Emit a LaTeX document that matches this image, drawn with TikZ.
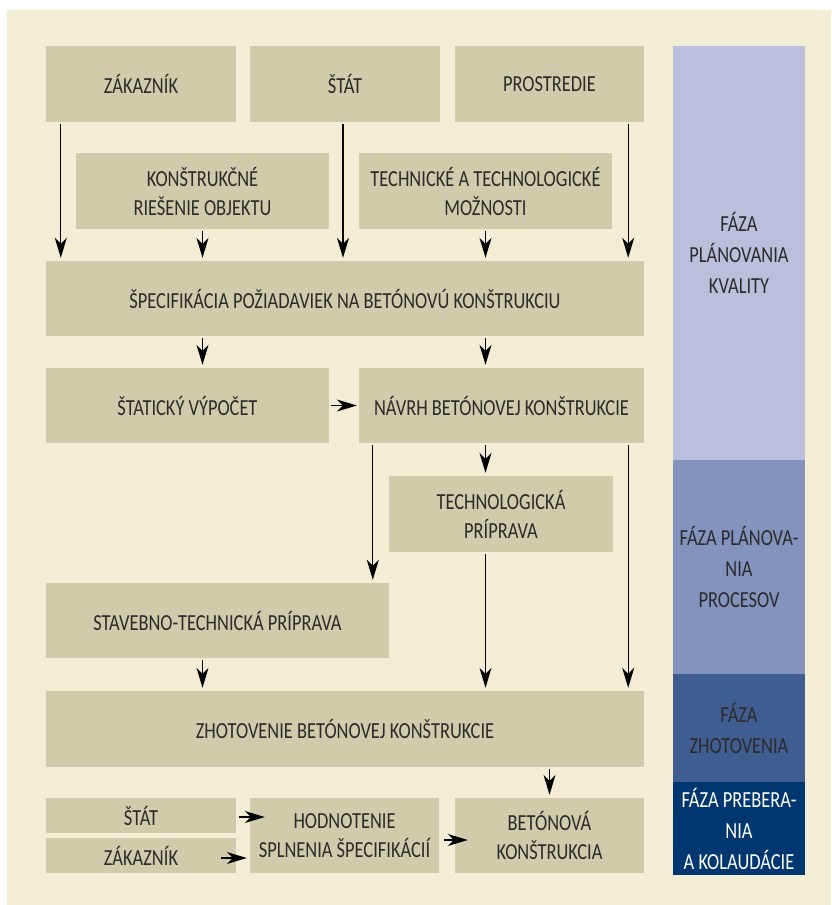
\documentclass[tikz,border=0pt]{standalone}
\usepackage{fontspec}
\setmainfont{Carlito}[FakeStretch=0.8]
\usetikzlibrary{arrows.meta}

\definecolor{paper}{RGB}{242,237,212}
\definecolor{khaki}{RGB}{208,203,170}
\definecolor{ink}{RGB}{43,43,43}
\definecolor{phaseA}{RGB}{186,192,219}
\definecolor{phaseB}{RGB}{132,147,189}
\definecolor{phaseC}{RGB}{63,93,145}
\definecolor{phaseD}{RGB}{0,55,112}

\tikzset{
    blk/.style={fill=khaki, text=ink, align=center, inner sep=0pt,
        minimum height=76pt, font=\fontsize{23}{29}\selectfont},
    phase/.style={text=ink, align=center, inner sep=0pt,
        minimum width=132pt, font=\fontsize{23}{31}\selectfont},
    arr/.style={draw=black, line width=1.3pt, shorten <=2pt, shorten >=3pt,
        -{Stealth[length=20pt, width=12pt, inset=6pt]}}
}

\begin{document}
\begin{tikzpicture}[x=1pt, y=-1pt]

    % --- Page and paper ---
    \fill[white] (0,0) rectangle (831,905);
    \fill[paper] (7,10) rectangle (831,905);
    \useasboundingbox (0,0) rectangle (831,905);

    % --- Inputs ---
    \node[blk, minimum width=190pt] (zak) at (141,84) {ZÁKAZNÍK};
    \node[blk, minimum width=190pt] (stat) at (345,84) {ŠTÁT};
    \node[blk, minimum width=189pt] (prostr) at (549.5,84) {PROSTREDIE};
    \node[blk, minimum width=253pt] (konst) at (202.5,191) {KONŠTRUKČNÉ\\RIEŠENIE OBJEKTU};
    \node[blk, minimum width=253pt] (tech) at (485.5,191) {TECHNICKÉ A TECHNOLOGICKÉ\\MOŽNOSTI};

    % --- Main chain ---
    \node[blk, minimum width=598pt, minimum height=75pt] (spec) at (345,298.5)
        {ŠPECIFIKÁCIA POŽIADAVIEK NA BETÓNOVÚ KONŠTRUKCIU};
    \node[blk, minimum width=283pt, minimum height=75pt] (statik) at (187.5,405.5) {ŠTATICKÝ VÝPOČET};
    \node[blk, minimum width=285pt, minimum height=75pt] (navrh) at (501.5,405.5) {NÁVRH BETÓNOVEJ KONŠTRUKCIE};
    \node[blk, minimum width=224pt] (techprip) at (501,514) {TECHNOLOGICKÁ\\PRÍPRAVA};
    \node[blk, minimum width=343pt, minimum height=75pt] (stavtech) at (217.5,620.5) {STAVEBNO-TECHNICKÁ PRÍPRAVA};
    \node[blk, minimum width=598pt] (zhot) at (345,729) {ZHOTOVENIE BETÓNOVEJ KONŠTRUKCIE};

    % --- Acceptance ---
    \node[blk, minimum width=190pt, minimum height=35pt] (stat2) at (141,815.5) {ŠTÁT};
    \node[blk, minimum width=190pt, minimum height=35pt] (zak2) at (141,855.5) {ZÁKAZNÍK};
    \node[blk, minimum width=189pt, minimum height=75pt] (hodn) at (344.5,835.5) {HODNOTENIE\\SPLNENIA ŠPECIFIKÁCIÍ};
    \node[blk, minimum width=189pt, minimum height=75pt] (beton) at (549.5,835.5) {BETÓNOVÁ\\KONŠTRUKCIA};

    % --- Phases column ---
    \node[phase, fill=phaseA, minimum height=414pt] (fazaA) at (739,253) {FÁZA\\PLÁNOVANIA\\KVALITY};
    \node[phase, fill=phaseB, minimum height=214pt] (fazaB) at (739,567) {FÁZA PLÁNOVA-\\NIA\\PROCESOV};
    \node[phase, fill=phaseC, minimum height=108pt] (fazaC) at (739,728) {FÁZA\\ZHOTOVENIA};
    \node[phase, fill=phaseD, text=white, minimum height=93pt] (fazaD) at (739,828.5) {FÁZA PREBERA-\\NIA\\A KOLAUDÁCIE};

    % --- Arrows into specification ---
    \draw[arr] ([xshift=15pt]zak.south west) -- ([xshift=15pt]zak.south west |- spec.north);
    \draw[arr] (konst.south) -- (konst.south |- spec.north);
    \draw[arr] ([xshift=-2pt]stat.south) -- ([xshift=-2pt]stat.south |- spec.north);
    \draw[arr] (tech.south) -- (tech.south |- spec.north);
    \draw[arr] ([xshift=-16pt]prostr.south east) -- ([xshift=-16pt]prostr.south east |- spec.north);

    % --- Design ---
    \draw[arr] (spec.south -| konst.south) -- (statik.north -| konst.south);
    \draw[arr] (spec.south -| tech.south) -- (navrh.north -| tech.south);
    \draw[arr, shorten >=2pt] (statik.east) -- (navrh.west);

    % --- Preparation and execution ---
    \draw[arr] ([xshift=14pt]navrh.south west) -- ([xshift=14pt]navrh.south west |- stavtech.north);
    \draw[arr] (navrh.south -| tech.south) -- (techprip.north -| tech.south);
    \draw[arr] ([xshift=-16pt]navrh.south east) -- ([xshift=-16pt]navrh.south east |- zhot.north);
    \draw[arr] (techprip.south -| tech.south) -- (zhot.north -| tech.south);
    \draw[arr] (stavtech.south -| konst.south) -- (zhot.north -| konst.south);
    \draw[arr] (zhot.south -| beton.north) -- (beton.north);

    % --- Acceptance arrows ---
    \draw[arr] ([xshift=1pt, yshift=-1.5pt]stat2.east) -- ([xshift=18pt, yshift=-1.5pt]hodn.west |- stat2.east);
    \draw[arr] ([xshift=-17pt, yshift=-2.5pt]zak2.east) -- ([yshift=-2.5pt]hodn.west |- zak2.east);
    \draw[arr] ([xshift=3pt, yshift=-4.5pt]hodn.east) -- ([xshift=16pt, yshift=-4.5pt]beton.west);

\end{tikzpicture}
\end{document}
